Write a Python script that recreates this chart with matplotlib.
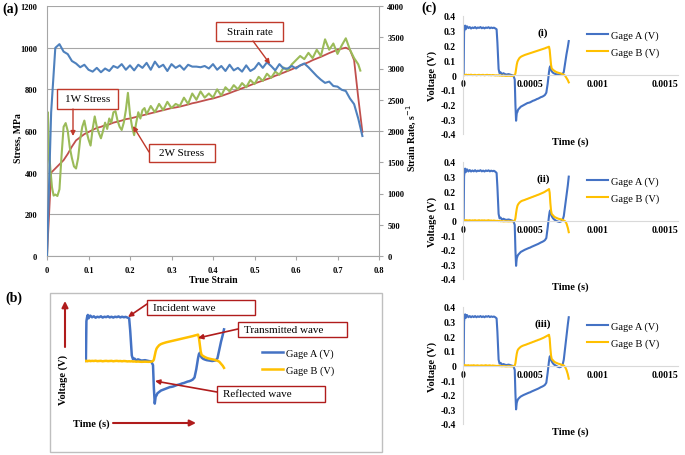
import matplotlib.pyplot as plt
from matplotlib.patches import Rectangle, FancyArrowPatch

plt.rcParams['font.family'] = ['Liberation Serif', 'DejaVu Serif']

# ---- (a) stress / strain-rate data ----
strain_grid = [0, 0.01, 0.02, 0.03, 0.04, 0.05, 0.06, 0.07, 0.08, 0.09,
               0.10, 0.11, 0.12, 0.13, 0.14, 0.15, 0.16, 0.17, 0.18, 0.19,
               0.20, 0.21, 0.22, 0.23, 0.24, 0.25, 0.26, 0.27, 0.28, 0.29,
               0.30, 0.31, 0.32, 0.33, 0.34, 0.35, 0.36, 0.37, 0.38, 0.39,
               0.40, 0.41, 0.42, 0.43, 0.44, 0.45, 0.46, 0.47, 0.48, 0.49,
               0.50, 0.51, 0.52, 0.53, 0.54, 0.55, 0.56, 0.57, 0.58, 0.59,
               0.60, 0.61, 0.62, 0.63, 0.64, 0.65, 0.66, 0.67, 0.68, 0.69,
               0.70, 0.71, 0.72, 0.73, 0.74, 0.75, 0.76]

strain_rate = [0, 2300, 3330, 3390, 3270, 3230, 3120, 3080, 3020, 3060,
               2980, 2950, 3010, 2940, 3000, 2960, 3040, 3010, 3070, 2980,
               3050, 2970, 3060, 3010, 3090, 2980, 3110, 3020, 3060, 2960,
               3070, 3010, 3050, 2980, 3060, 3030, 3030, 3020, 3040, 3000,
               3070, 2980, 3040, 2960, 3060, 2970, 3010, 2950, 3050, 2960,
               3000, 3090, 3010, 3100, 3040, 2970, 3070, 3000, 3000, 3040,
               3000, 3050, 3080, 3020, 2950, 2880, 2820, 2770, 2790, 2720,
               2710, 2660, 2640, 2520, 2430, 2200, 1920]

stress_1w = [0, 400, 420, 440, 460, 490, 525, 555, 570, 585,
             595, 605, 615, 620, 628, 632, 640, 645, 650, 657,
             660, 665, 670, 675, 680, 685, 690, 695, 700, 705,
             710, 713, 717, 722, 727, 733, 737, 742, 747, 752,
             756, 762, 768, 775, 782, 790, 797, 805, 812, 820,
             828, 835, 842, 849, 856, 865, 872, 880, 888, 896,
             905, 914, 922, 930, 940, 948, 956, 965, 974, 982,
             990, 995, 1000, 990, 940, 760, 595]

strain_2w = [0, 0.002, 0.005, 0.008, 0.012, 0.016, 0.02, 0.025, 0.03, 0.035,
             0.04, 0.045, 0.05, 0.055, 0.06, 0.065, 0.07, 0.075, 0.08, 0.085,
             0.09, 0.095, 0.1, 0.105, 0.11, 0.115, 0.12, 0.125, 0.13, 0.135,
             0.14, 0.145, 0.15, 0.155, 0.16, 0.165, 0.17, 0.175, 0.18, 0.185,
             0.19, 0.195, 0.2, 0.205, 0.21, 0.215, 0.22, 0.225, 0.23, 0.235,
             0.24, 0.25, 0.26, 0.27, 0.28, 0.29, 0.30, 0.31, 0.32, 0.33,
             0.34, 0.35, 0.36, 0.37, 0.38, 0.39, 0.40, 0.41, 0.42, 0.43,
             0.44, 0.45, 0.46, 0.47, 0.48, 0.49, 0.50, 0.51, 0.52, 0.53,
             0.54, 0.55, 0.56, 0.57, 0.58, 0.59, 0.60, 0.61, 0.62, 0.63,
             0.64, 0.65, 0.66, 0.67, 0.68, 0.69, 0.70, 0.71, 0.72, 0.73,
             0.74, 0.75, 0.755]

stress_2w = [0, 690, 500, 420, 330, 290, 295, 288, 320, 480,
             620, 638, 600, 520, 470, 430, 420, 470, 560, 620,
             650, 600, 560, 530, 610, 670, 620, 590, 565, 600,
             640, 610, 660, 640, 690, 695, 650, 620, 605, 640,
             700, 783, 680, 620, 580, 640, 690, 660, 700, 710,
             680, 720, 690, 730, 700, 740, 710, 730, 720, 760,
             730, 780, 750, 790, 760, 780, 760, 800, 770, 810,
             790, 820, 800, 830, 810, 845, 825, 860, 840, 875,
             855, 885, 870, 905, 890, 920, 940, 960, 945, 975,
             950, 990, 960, 1040, 990, 1020, 970, 1010, 1045, 990,
             950, 920, 890]

strain_ticks = [0, 0.1, 0.2, 0.3, 0.4, 0.5, 0.6, 0.7, 0.8]
strain_tick_labels = ['0', '0.1', '0.2', '0.3', '0.4', '0.5', '0.6', '0.7', '0.8']

# ---- (b)/(c) gage signals, time in microseconds ----
time_us = [0, 5, 8, 12, 16, 20, 25, 30, 40, 50,
           60, 70, 80, 90, 100, 110, 120, 130, 140, 150,
           160, 170, 180, 190, 200, 210, 220, 230, 240, 250,
           256, 265, 272, 280, 290, 300, 320, 340, 360, 375,
           385, 390, 395, 400, 405, 410, 420, 430, 440, 450,
           460, 470, 480, 490, 500, 510, 520, 530, 540, 550,
           560, 570, 580, 590, 600, 610, 620, 630, 640, 645,
           650, 655, 660, 670, 680, 690, 700, 710, 720, 730,
           740, 750, 760, 770, 780, 787]

gage_a_1 = [0, 0.0, 0.29, 0.32, 0.335, 0.31, 0.325, 0.33, 0.318, 0.325,
            0.315, 0.322, 0.318, 0.325, 0.316, 0.322, 0.319, 0.325, 0.317, 0.322,
            0.316, 0.322, 0.319, 0.324, 0.317, 0.322, 0.318, 0.321, 0.316, 0.31,
            0.22, 0.04, 0.012, 0.018, 0.004, 0.012, 0.003, 0.006, 0.0, -0.004,
            -0.03, -0.2, -0.31, -0.26, -0.25, -0.235, -0.225, -0.215, -0.21, -0.205,
            -0.2, -0.195, -0.19, -0.188, -0.185, -0.18, -0.175, -0.172, -0.168, -0.163,
            -0.16, -0.155, -0.15, -0.147, -0.142, -0.135, -0.12, -0.06, 0.02, 0.05,
            0.06, 0.04, 0.025, 0.015, 0.01, 0.006, 0.004, 0.002, 0.0, 0.002,
            0.005, 0.02, 0.08, 0.14, 0.19, 0.23]
gage_b_1 = [0, 0.002, 0.0, -0.002, 0.001, 0.0, 0.002, -0.001, 0.001, 0.0,
            0.002, -0.001, 0.0, 0.001, -0.002, 0.0, 0.001, -0.001, 0.0, 0.001,
            -0.002, 0.0, 0.001, -0.001, 0.0, -0.002, 0.0, -0.001, -0.003, -0.002,
            -0.003, -0.002, -0.004, -0.003, -0.005, -0.004, -0.006, -0.005, -0.006, -0.005,
            0.0, 0.01, 0.04, 0.07, 0.09, 0.1, 0.115, 0.123, 0.128, 0.132,
            0.136, 0.139, 0.142, 0.145, 0.148, 0.151, 0.154, 0.157, 0.16, 0.163,
            0.166, 0.169, 0.172, 0.175, 0.178, 0.181, 0.185, 0.188, 0.192, 0.17,
            0.12, 0.07, 0.045, 0.035, 0.028, 0.022, 0.018, 0.015, 0.012, 0.01,
            0.005, 0.002, -0.005, -0.02, -0.035, -0.05]

gage_a_2 = [0, 0.0, 0.3, 0.34, 0.355, 0.33, 0.345, 0.35, 0.335, 0.345,
            0.335, 0.342, 0.336, 0.344, 0.335, 0.341, 0.338, 0.344, 0.336, 0.341,
            0.335, 0.342, 0.338, 0.343, 0.336, 0.341, 0.337, 0.34, 0.334, 0.325,
            0.23, 0.045, 0.015, 0.02, 0.006, 0.012, 0.004, 0.007, 0.001, -0.004,
            -0.03, -0.2, -0.31, -0.26, -0.245, -0.235, -0.225, -0.215, -0.21, -0.205,
            -0.2, -0.196, -0.192, -0.188, -0.185, -0.18, -0.176, -0.172, -0.168, -0.164,
            -0.16, -0.155, -0.15, -0.146, -0.141, -0.134, -0.12, -0.05, 0.03, 0.06,
            0.07, 0.045, 0.03, 0.015, 0.006, 0.0, -0.005, -0.008, -0.01, -0.006,
            0.0, 0.03, 0.1, 0.17, 0.24, 0.30]
gage_b_2 = [0, 0.002, -0.001, 0.001, 0.0, 0.002, -0.001, 0.001, 0.0, 0.002,
            -0.001, 0.001, 0.0, 0.002, -0.001, 0.0, 0.002, -0.001, 0.001, 0.0,
            0.001, -0.001, 0.0, 0.002, -0.001, 0.0, -0.002, 0.0, -0.002, -0.003,
            -0.002, -0.004, -0.003, -0.005, -0.004, -0.006, -0.005, -0.006, -0.005, -0.006,
            0.0, 0.015, 0.05, 0.08, 0.1, 0.11, 0.122, 0.13, 0.135, 0.138,
            0.141, 0.145, 0.148, 0.152, 0.155, 0.159, 0.162, 0.166, 0.169, 0.173,
            0.176, 0.18, 0.184, 0.188, 0.192, 0.197, 0.203, 0.208, 0.215, 0.19,
            0.12, 0.07, 0.045, 0.035, 0.025, 0.02, 0.016, 0.012, 0.01, 0.008,
            0.005, 0.0, -0.005, -0.02, -0.05, -0.08]

gage_a_3 = [0, 0.0, 0.3, 0.335, 0.35, 0.325, 0.34, 0.345, 0.33, 0.338,
            0.33, 0.337, 0.331, 0.338, 0.33, 0.336, 0.332, 0.338, 0.331, 0.336,
            0.33, 0.337, 0.333, 0.338, 0.331, 0.336, 0.332, 0.335, 0.33, 0.322,
            0.23, 0.04, 0.013, 0.018, 0.005, 0.01, 0.003, 0.006, 0.0, -0.004,
            -0.03, -0.19, -0.3, -0.255, -0.24, -0.23, -0.22, -0.212, -0.207, -0.202,
            -0.198, -0.194, -0.19, -0.186, -0.183, -0.178, -0.174, -0.17, -0.166, -0.162,
            -0.158, -0.153, -0.148, -0.144, -0.139, -0.132, -0.118, -0.05, 0.03, 0.06,
            0.065, 0.04, 0.028, 0.014, 0.005, 0.0, -0.006, -0.01, -0.012, -0.008,
            0.0, 0.04, 0.12, 0.2, 0.28, 0.33]
gage_b_3 = [0, 0.001, -0.002, 0.001, 0.0, 0.002, -0.001, 0.0, 0.002, -0.001,
            0.001, 0.0, 0.002, -0.001, 0.0, 0.001, -0.002, 0.0, 0.001, -0.001,
            0.0, 0.002, -0.001, 0.0, 0.001, -0.002, 0.0, -0.001, -0.002, -0.003,
            -0.003, -0.002, -0.004, -0.004, -0.005, -0.004, -0.006, -0.005, -0.006, -0.005,
            0.0, 0.015, 0.05, 0.08, 0.1, 0.11, 0.12, 0.128, 0.133, 0.137,
            0.14, 0.143, 0.147, 0.15, 0.154, 0.157, 0.161, 0.164, 0.168, 0.171,
            0.175, 0.178, 0.182, 0.186, 0.19, 0.195, 0.2, 0.205, 0.21, 0.185,
            0.12, 0.07, 0.045, 0.035, 0.025, 0.02, 0.016, 0.012, 0.01, 0.006,
            0.004, 0.0, -0.01, -0.03, -0.06, -0.09]

volt_ticks = [-0.4, -0.3, -0.2, -0.1, 0, 0.1, 0.2, 0.3, 0.4]
volt_tick_labels = ['-0.4', '-0.3', '-0.2', '-0.1', '0', '0.1', '0.2', '0.3', '0.4']
time_ticks = [0, 0.0005, 0.001, 0.0015]
time_tick_labels = ['0', '0.0005', '0.001', '0.0015']
gage_labels = ['Gage A (V)', 'Gage B (V)']
panel_names = ['(i)', '(ii)', '(iii)']

BLUE_A = '#4f81bd'
RED_A = '#c0504d'
GREEN_A = '#9bbb59'
BLUE_C = '#4472c4'
YELLOW_C = '#ffc000'
GRID = '#a6a6a6'
LIGHT = '#d9d9d9'
NOTE_RED = '#c0392b'
DARK_RED = '#b01c1c'

W, H = 685, 456
fig = plt.figure(figsize=(6.85, 4.56), dpi=100)


def fx(x):
    return x / W


def fy(y):
    return 1 - y / H


def px_axes(x0, y0, x1, y1):
    # pixel box (top-left origin) -> add_axes rect
    return fig.add_axes([fx(x0), fy(y1), (x1 - x0) / W, (y1 - y0) / H])


def note_box(x0, y0, x1, y1, text, size=8, ha='center', color=NOTE_RED):
    fig.add_artist(Rectangle((fx(x0), fy(y1)), (x1 - x0) / W, (y1 - y0) / H,
                             transform=fig.transFigure, facecolor='white',
                             edgecolor=color, lw=1.0, zorder=10))
    tx = (x0 + x1) / 2 if ha == 'center' else x0 + 6
    fig.text(fx(tx), fy((y0 + y1) / 2), text, ha=ha, va='center',
             fontsize=size, zorder=11)


def arrow(x0, y0, x1, y1, color=NOTE_RED, lw=1.0, ms=7):
    fig.add_artist(FancyArrowPatch((fx(x0), fy(y0)), (fx(x1), fy(y1)),
                                   transform=fig.transFigure, arrowstyle='-|>',
                                   mutation_scale=ms, color=color, lw=lw,
                                   shrinkA=0, shrinkB=0, zorder=12))


def bold_ticks(ax):
    for lbl in ax.get_xticklabels() + ax.get_yticklabels():
        lbl.set_fontweight('bold')


# ---------------- (a) ----------------
ax = px_axes(47, 7, 379, 257)
ax.plot(strain_grid, stress_1w, color=RED_A, lw=1.3)
ax.plot(strain_2w, stress_2w, color=GREEN_A, lw=1.5)
ax.set_xlim(0, 0.8)
ax.set_ylim(0, 1200)
ax.set_yticks([0, 200, 400, 600, 800, 1000, 1200])
ax.set_xticks(strain_ticks)
ax.set_xticklabels(strain_tick_labels)
ax.yaxis.grid(True, color=GRID, lw=0.8)
ax.set_axisbelow(True)
for s in ['top', 'right']:
    ax.spines[s].set_visible(False)
for s in ['left', 'bottom']:
    ax.spines[s].set_color(GRID)
ax.tick_params(axis='y', length=0, pad=7, labelsize=6)
ax.tick_params(axis='x', length=3, color=GRID, pad=4, labelsize=6)
bold_ticks(ax)

ax2 = ax.twinx()
ax2.plot(strain_grid, strain_rate, color=BLUE_A, lw=1.5)
ax2.set_ylim(0, 4000)
ax2.set_yticks(range(0, 4001, 500))
for s in ['top', 'left', 'bottom']:
    ax2.spines[s].set_visible(False)
ax2.spines['right'].set_color(GRID)
ax2.tick_params(axis='y', length=3, color=GRID, pad=3, labelsize=6)
bold_ticks(ax2)

fig.text(fx(213), fy(281), 'True Strain', ha='center', va='center',
         fontsize=7, fontweight='bold')
fig.text(fx(18), fy(138), 'Stress, MPa', ha='center', va='center',
         rotation=90, fontsize=7, fontweight='bold')
fig.text(fx(412), fy(138), 'Strain Rate, s$^{-1}$', ha='center', va='center',
         rotation=90, fontsize=7, fontweight='bold')
fig.text(fx(2), fy(9), '(a)', ha='left', va='center', fontsize=10,
         fontweight='bold')

note_box(216, 23, 283, 42, 'Strain rate')
arrow(253, 42, 270, 65)
note_box(57, 90, 118, 110, '1W Stress')
arrow(73, 110, 73, 137)
note_box(149, 145, 215, 163, '2W Stress')
arrow(149, 153, 133, 127)

# ---------------- (b) ----------------
fig.add_artist(Rectangle((fx(50), fy(453)), (382 - 50) / W, (453 - 294) / H,
                         transform=fig.transFigure, fill=False,
                         edgecolor='#bfbfbf', lw=1.0))
fig.text(fx(5), fy(298), '(b)', ha='left', va='center', fontsize=10,
         fontweight='bold')
axb = px_axes(85, 307, 226.3, 417)
t_s = [t * 1e-6 for t in time_us]
la, = axb.plot(t_s, gage_a_1, color=BLUE_C, lw=1.8)
lb, = axb.plot(t_s, gage_b_1, color=YELLOW_C, lw=1.8)
axb.set_xlim(0, 0.0008)
axb.set_ylim(-0.4, 0.4)
axb.axis('off')
fig.legend([la, lb], gage_labels, loc='upper left',
           bbox_to_anchor=(fx(262), fy(349)), frameon=False, fontsize=7.5,
           handlelength=2.0, handletextpad=0.3, labelspacing=0.7,
           borderpad=0, borderaxespad=0)

arrow(65, 348, 65, 302, color=DARK_RED, lw=1.5, ms=9)
fig.text(fx(63), fy(380), 'Voltage (V)', ha='center', va='center',
         rotation=90, fontsize=7.5, fontweight='bold')
fig.text(fx(91), fy(424), 'Time (s)', ha='center', va='center',
         fontsize=7.5, fontweight='bold')
arrow(113, 424, 196, 424, color=DARK_RED, lw=1.5, ms=9)

note_box(147, 301, 255, 316, 'Incident wave', size=8, ha='left', color=DARK_RED)
arrow(147, 305, 128, 318, color=DARK_RED, lw=1.2)
note_box(238, 323, 347, 338, 'Transmitted wave', size=8, ha='left',
         color=DARK_RED)
arrow(238, 330, 198, 339, color=DARK_RED, lw=1.2)
note_box(217, 387, 325, 403, 'Reflected wave', size=8, ha='left',
         color=DARK_RED)
arrow(217, 393, 155, 382, color=DARK_RED, lw=1.2)

# ---------------- (c) ----------------
fig.text(fx(421), fy(8), '(c)', ha='left', va='center', fontsize=10,
         fontweight='bold')
tops = [17, 163, 308]
bottoms = [135, 280, 425]
gage_sets = [(gage_a_1, gage_b_1), (gage_a_2, gage_b_2), (gage_a_3, gage_b_3)]
for k in range(3):
    axc = px_axes(463, tops[k], 678, bottoms[k])
    ga, gb = gage_sets[k]
    axc.plot(t_s, ga, color=BLUE_C, lw=1.5, label=gage_labels[0])
    axc.plot(t_s, gb, color=YELLOW_C, lw=1.5, label=gage_labels[1])
    axc.set_xlim(0, 0.0016)
    axc.set_ylim(-0.4, 0.4)
    axc.set_yticks(volt_ticks)
    axc.set_yticklabels(volt_tick_labels)
    axc.set_xticks(time_ticks)
    axc.set_xticklabels(time_tick_labels)
    axc.spines['top'].set_visible(False)
    axc.spines['right'].set_visible(False)
    axc.spines['bottom'].set_position(('data', 0))
    axc.spines['bottom'].set_color(LIGHT)
    axc.spines['left'].set_color(LIGHT)
    axc.tick_params(axis='both', length=0, labelsize=7)
    axc.tick_params(axis='y', pad=5)
    axc.tick_params(axis='x', pad=3)
    bold_ticks(axc)
    axc.text(0.5, -0.06, 'Time (s)', transform=axc.transAxes, ha='center',
             va='center', fontsize=7.5, fontweight='bold')
    axc.text(-0.145, 0.5, 'Voltage (V)', transform=axc.transAxes, ha='center',
             va='center', rotation=90, fontsize=7.5, fontweight='bold')
    axc.text(0.372, 0.865, panel_names[k], transform=axc.transAxes,
             ha='center', va='center', fontsize=8, fontweight='bold')
    axc.legend(loc='upper left', bbox_to_anchor=(0.577, 0.88), frameon=False,
               fontsize=7.5, handlelength=2.0, handletextpad=0.3,
               labelspacing=0.7, borderpad=0, borderaxespad=0)

fig.savefig('out.png', dpi=100)
